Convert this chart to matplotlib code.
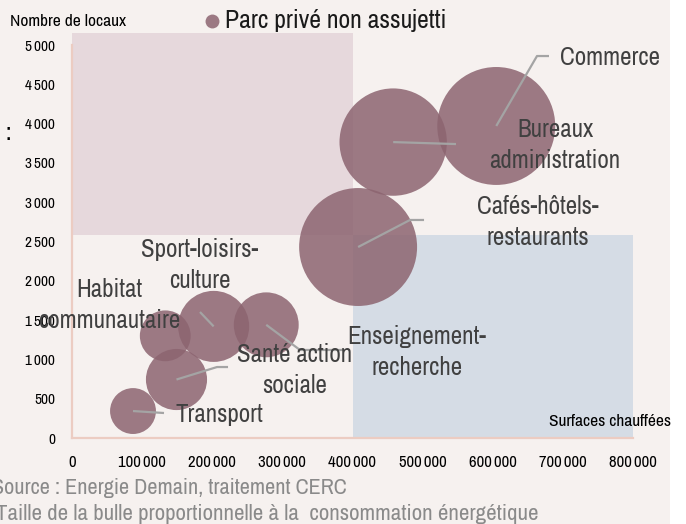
import matplotlib
matplotlib.use("Agg")
import matplotlib.pyplot as plt
from matplotlib.patches import Rectangle
from matplotlib.lines import Line2D

# ---------------- data ----------------
categories = ["Commerce", "Bureaux\nadministration", "Cafés-hôtels-\nrestaurants",
              "Enseignement-\nrecherche", "Sport-loisirs-\nculture", "Habitat\ncommunautaire",
              "Santé action\nsociale", "Transport"]
surfaces = [605000, 458000, 408000, 277000, 202000, 133000, 149000, 87000]   # x
locaux = [3970, 3765, 2430, 1440, 1420, 1300, 744, 343]                       # y
consommation = [35.0, 29.0, 35.0, 10.6, 12.7, 6.5, 9.4, 5.3]                 # bubble area (relative)
series_name = "Parc privé non assujetti"
xticks = [0, 100000, 200000, 300000, 400000, 500000, 600000, 700000, 800000]
yticks = [0, 500, 1000, 1500, 2000, 2500, 3000, 3500, 4000, 4500, 5000]
quadrant_y = 2580
quadrant_x = 400000

# ---------------- layout ----------------
label_pos = [(767000, 4847), (688800, 3728), (664500, 2748), (492000, 1094),
             (182500, 2201), (52800, 1692), (318000, 865), (209600, 300)]
leaders = [[(663100, 4860), (680200, 4860)],
           [(547600, 3740)],
           [(482000, 2774), (502000, 2774)],
           [(325100, 1120), (389300, 1120)],
           [(182500, 1603)],
           None,
           [(206800, 903), (222500, 903)],
           [(131200, 318)]]

font = ["Archivo Narrow", "Liberation Sans Narrow", "DejaVu Sans"]
plt.rcParams['font.family'] = font

BG = "#f6f1ef"
BUBBLE = "#8c6470"
fig = plt.figure(figsize=(6.86, 5.24), dpi=100, facecolor="white")
fig.patches.append(Rectangle((0, 0), 670 / 686, 1, transform=fig.transFigure,
                             facecolor=BG, edgecolor="none", zorder=-10))
ax = fig.add_axes([72 / 686, 1 - 438 / 524, (633 - 72) / 686, (438 - 33) / 524])
ax.set_facecolor("none")
ax.set_xlim(0, 800000)
ax.set_ylim(0, 5153)

ax.add_patch(Rectangle((0, quadrant_y), quadrant_x, 5153 - quadrant_y,
                       facecolor="#e6d8dc", edgecolor="none", zorder=0))
ax.add_patch(Rectangle((quadrant_x, 0), 800000 - quadrant_x, quadrant_y,
                       facecolor="#d5dce5", edgecolor="none", zorder=0))

k = 206.0
sizes = [c * k for c in consommation]
ax.scatter(surfaces, locaux, s=sizes, color=BUBBLE, alpha=0.85,
           edgecolors="none", zorder=2)

for i, (x, y) in enumerate(zip(surfaces, locaux)):
    if leaders[i] is not None:
        pts = [(x, y)] + leaders[i]
        xs, ys = zip(*pts)
        ax.plot(xs, ys, color="#a4a4a4", lw=1.6, zorder=3, solid_capstyle="butt")
    lx, ly = label_pos[i]
    ax.text(lx, ly, categories[i], ha="center", va="center", fontsize=18,
            color="#404040", linespacing=1.4, zorder=4, clip_on=False)

for s in ["top", "right"]:
    ax.spines[s].set_visible(False)
for s in ["left", "bottom"]:
    ax.spines[s].set_color("#ecccc2")
    ax.spines[s].set_linewidth(1.6)
ax.spines["left"].set_bounds(0, 5000)
ax.set_xticks(xticks)
ax.set_yticks(yticks)
ax.set_xticklabels([f"{v:,}".replace(",", "\u2009") for v in xticks], fontsize=12)
ax.set_yticklabels([f"{v:,}".replace(",", "\u2009") if v >= 1000 else str(v) for v in yticks],
                   fontsize=11)
ax.tick_params(axis="both", length=0, colors="black")
ax.tick_params(axis="x", pad=12)
ax.tick_params(axis="y", pad=12)

# axis titles
fig.text(10 / 686, 1 - 22 / 524, "Nombre de locaux", fontsize=12.5, va="center", ha="left")
fig.text(671 / 686, 1 - 421 / 524, "Surfaces chauffées", fontsize=12.5, va="center", ha="right")

# legend
fig.lines.append(Line2D([212 / 686], [1 - 21 / 524], marker="o", markersize=10,
                        color=BUBBLE, alpha=0.85, markeredgewidth=0, transform=fig.transFigure))
fig.text(225 / 686, 1 - 21 / 524, series_name, fontsize=18.5, va="center", ha="left",
         color="#1a1a1a")

fig.text(8 / 686, 1 - 133 / 524, ":", fontsize=17, va="center", ha="center",
         fontweight="bold", color="black")

# source
fig.text(-8 / 686, 1 - 488 / 524, "Source : Energie Demain, traitement CERC",
         fontsize=16, color="#8a8a8a", va="center", ha="left")
fig.text(-4 / 686, 1 - 514 / 524, "Taille de la bulle proportionnelle à la  consommation énergétique",
         fontsize=16.5, color="#8a8a8a", va="center", ha="left")

fig.savefig("out.png", dpi=100, facecolor="white")
